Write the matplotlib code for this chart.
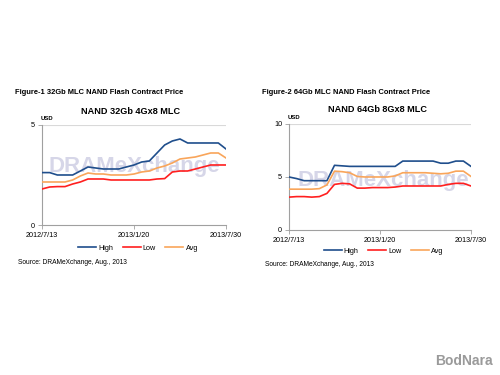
import matplotlib
matplotlib.use('Agg')
import matplotlib.pyplot as plt

plt.rcParams['font.family'] = ['Liberation Sans', 'DejaVu Sans']

# half-monthly contract prices, 2012/7/13 .. 2013/7/30
dates = list(range(25))
tick_pos = [0, 12, 24]
tick_labels = ['2012/7/13', '2013/1/20', '2013/7/30']

high_32 = [2.62, 2.62, 2.5, 2.5, 2.5, 2.7, 2.9, 2.85, 2.8, 2.8, 2.8, 2.9, 3.0,
           3.15, 3.2, 3.6, 4.0, 4.2, 4.3, 4.1, 4.1, 4.1, 4.1, 4.1, 3.8]
low_32 = [1.8, 1.9, 1.92, 1.92, 2.05, 2.15, 2.3, 2.3, 2.3, 2.25, 2.25, 2.25, 2.25,
          2.25, 2.25, 2.3, 2.32, 2.65, 2.7, 2.7, 2.8, 2.9, 3.0, 3.0, 3.0]
avg_32 = [2.15, 2.15, 2.15, 2.15, 2.25, 2.45, 2.6, 2.55, 2.55, 2.5, 2.5, 2.5, 2.55,
          2.65, 2.7, 2.85, 2.95, 3.1, 3.3, 3.35, 3.4, 3.5, 3.6, 3.6, 3.35]

high_64 = [5.0, 4.85, 4.65, 4.65, 4.65, 4.65, 6.1, 6.05, 6.0, 6.0, 6.0, 6.0, 6.0,
           6.0, 6.0, 6.5, 6.5, 6.5, 6.5, 6.5, 6.3, 6.3, 6.5, 6.5, 6.0]
low_64 = [3.1, 3.15, 3.15, 3.1, 3.15, 3.45, 4.3, 4.4, 4.35, 3.95, 3.95, 4.0, 4.0,
          4.0, 4.05, 4.15, 4.15, 4.15, 4.15, 4.15, 4.15, 4.3, 4.4, 4.4, 4.15]
avg_64 = [3.85, 3.85, 3.85, 3.85, 3.9, 4.25, 5.55, 5.5, 5.4, 5.05, 5.0, 5.0, 5.0,
          5.0, 5.1, 5.4, 5.4, 5.4, 5.4, 5.35, 5.3, 5.35, 5.55, 5.55, 5.05]

colors = {'High': '#1f4e8c', 'Low': '#ff1f1f', 'Avg': '#f9a55a'}

fig_title_txt = {
    'NAND 32Gb 4Gx8 MLC': 'Figure-1 32Gb MLC NAND Flash Contract Price',
    'NAND 64Gb 8Gx8 MLC': 'Figure-2 64Gb MLC NAND Flash Contract Price',
}

fig = plt.figure(figsize=(5, 3.75), dpi=100)
fig.patch.set_facecolor('white')


def draw_panel(rect, high, low, avg, ymax, fig_title_y, title, title_xy,
               src_y, leg_y, leg_x, wm_xy):
    ax = fig.add_axes(rect)
    ax.text(wm_xy[0], wm_xy[1], 'DRAMeXchange', transform=ax.transAxes, fontsize=16,
            fontweight='bold', color='#d6d6e8', ha='center', va='center', zorder=0)
    ax.plot(dates, high, color=colors['High'], lw=1.2, label='High', zorder=3)
    ax.plot(dates, low, color=colors['Low'], lw=1.2, label='Low', zorder=3)
    ax.plot(dates, avg, color=colors['Avg'], lw=1.2, label='Avg', zorder=3)
    ax.set_xlim(0, 24)
    ax.set_ylim(0, ymax)
    yt = [0, 5, 10] if ymax == 10 else [0, 5]
    ax.set_yticks(yt)
    ax.set_yticklabels([str(v) for v in yt], fontsize=5.2)
    ax.set_xticks(tick_pos)
    ax.set_xticklabels(tick_labels, fontsize=5.2)
    ax.axhline(ymax, color='#d9d9d9', lw=0.8, zorder=1)
    for s in ['top', 'right']:
        ax.spines[s].set_visible(False)
    for s in ['left', 'bottom']:
        ax.spines[s].set_color('#a0a0a0')
        ax.spines[s].set_linewidth(0.8)
    ax.tick_params(length=3, width=0.6, color='#a0a0a0', pad=2)
    ax.text(-0.2, ymax * 1.04, 'USD', fontsize=4.3, fontweight='bold', ha='left', va='bottom')
    fig.text(rect[0] - 0.054, fig_title_y, fig_title_txt[title], fontsize=5.4,
             fontweight='bold', va='center')
    fig.text(title_xy[0], title_xy[1], title, fontsize=6.6, fontweight='bold',
             ha='center', va='center')
    fig.text(rect[0] - 0.048, src_y, 'Source: DRAMeXchange, Aug., 2013', fontsize=4.8,
             va='center')
    ax.legend(loc='center', bbox_to_anchor=(leg_x, leg_y), bbox_transform=fig.transFigure,
              ncol=3, frameon=False, fontsize=5.2, handlelength=2.5, columnspacing=1.3,
              handletextpad=0.3)
    return ax


draw_panel([0.084, 0.40, 0.368, 0.2667], high_32, low_32, avg_32, 5,
           1 - 93 / 375, 'NAND 32Gb 4Gx8 MLC', (0.262, 1 - 112 / 375),
           1 - 263 / 375, 1 - 248 / 375, 0.276, (0.5, 0.58))
draw_panel([0.578, 0.3867, 0.364, 0.2827], high_64, low_64, avg_64, 10,
           1 - 92 / 375, 'NAND 64Gb 8Gx8 MLC', (0.754, 1 - 110 / 375),
           1 - 265 / 375, 1 - 251 / 375, 0.767, (0.52, 0.47))

fig.text(0.985, 0.018, 'BodNara', fontsize=10, fontweight='bold', color='#9a9a9a',
         ha='right', va='bottom')

fig.savefig('out.png', dpi=100)
